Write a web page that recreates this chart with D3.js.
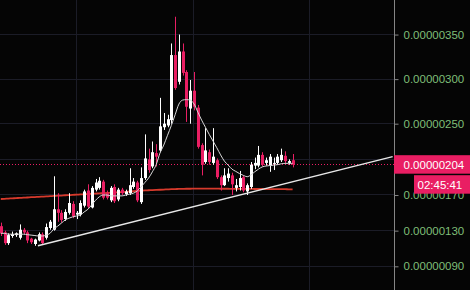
<!DOCTYPE html>
<html>
<head>
<meta charset="utf-8">
<script src="https://cdn.jsdelivr.net/npm/d3@7"></script>
<style>
body { margin: 0; background: #050505; overflow: hidden; }
</style>
</head>
<body>
<div id="chart"></div>
<script>
// prices are in units of 0.00000001
var opens  = [135,128,116,124,125,122,131,128,121,115,119,126,122,133,131,154,150,143,150,160,
              148,148,158,175,156,176,178,185,172,164,179,165,176,171,172,179,184,162,189,210,
              202,217,220,246,248,254,327,297,331,308,267,287,268,226,207,218,206,209,190,181,
              189,192,178,179,190,174,179,203,203,215,206,203,205,206,209,214,206,209];
var highs  = [139,130,127,129,128,137,133,130,122,121,128,128,138,142,191,172,153,154,172,163,
              152,164,176,182,180,188,190,187,175,180,182,178,178,176,200,189,186,201,238,222,
              230,227,279,262,260,340,370,350,340,310,299,308,271,228,245,221,245,211,192,200,
              200,195,188,197,192,183,207,212,225,218,212,216,212,216,222,219,210,216];
var lows   = [124,114,114,122,123,120,126,116,115,113,118,115,120,131,130,140,139,141,148,144,
              143,146,156,155,155,174,176,165,165,162,161,163,170,169,170,177,162,160,187,195,
              200,202,218,243,246,250,288,294,304,252,250,265,222,192,205,204,204,188,175,180,
              185,170,174,175,173,170,177,199,201,202,203,196,198,204,207,205,204,201];
var closes = [127,116,125,126,127,131,128,119,117,120,126,116,134,140,154,150,142,151,161,146,
              150,161,174,157,178,184,186,167,167,178,163,176,172,174,181,185,164,189,211,198,
              218,213,247,250,255,327,290,331,307,269,287,269,224,204,220,207,213,190,181,192,
              194,182,181,189,175,181,204,206,215,204,209,213,206,213,215,208,208,204];

// white short moving average and red long moving average
var maFast = [127,127,126,126,126,126,126,125.5,125,124.5,124,124,125,127,132,135,138.5,142,144,145.5,
              146.5,147.5,151,154,159,164,168,170,170,169,169,169,169,170,171,172,174.5,179,184,189,
              196,204,217,226,237,248,260,272,276.5,277,276.5,272,263,254,246,238,230.5,223,215,208,
              203.5,199,196.5,194,192,190.5,192.5,196,199,201.5,202.5,203,203.5,204,205,205.5,205.5,205.5];
var maSlow = [165.5,165.7,166,166.2,166.5,166.7,167,167.2,167.5,167.7,168,168.2,168.4,168.7,168.9,169.2,169.4,169.7,169.9,170.1,
              170.4,170.6,170.9,171.1,171.4,171.6,171.8,172.1,172.3,172.6,172.8,173,173.3,173.6,173.9,174.2,174.5,174.8,175.1,175.3,
              175.5,175.7,175.9,176.1,176.3,176.5,176.6,176.8,176.9,177,177,177.1,177.1,177.1,177.1,177.1,177.1,177.1,177,177,
              177,176.9,176.9,176.9,176.8,176.8,176.8,176.7,176.7,176.7,176.6,176.6,176.6,176.5,176.5,176.5,176.4,176.4];

var yTicks = [350, 300, 250, 210, 170, 130, 90];
var hiddenTick = 210;                // its label sits under the last price box
var xGrid = [19.9, 50.8, 81.4];      // candle index of the vertical grid lines
var trendIdx = [9.8, 103.4];         // support line drawn by hand
var trendVal = [113, 213];
var lastPrice = 204;
var timerText = "02:45:41";

var width = 470, height = 290, plotW = 394;
var up = "#ffffff", down = "#e91e63";

var svg = d3.select("#chart")
  .append("svg")
  .attr("width", width)
  .attr("height", height)
  .style("display", "block")
  .style("background", "#050505");

var x = d3.scaleLinear().domain([0, opens.length - 1]).range([0.8, 292.6]);
var y = d3.scaleLinear().domain([90, 350]).range([266.3, 34.55]);

var fmt = function(v) { return (v * 1e-8).toFixed(8); };

// grid
var grid = svg.append("g").attr("stroke", "#1b1c27").attr("stroke-width", 1);
grid.selectAll(".hg").data(yTicks).enter().append("line")
  .attr("x1", 0).attr("x2", plotW)
  .attr("y1", function(d) { return Math.floor(y(d)) + 0.5; })
  .attr("y2", function(d) { return Math.floor(y(d)) + 0.5; });
grid.selectAll(".vg").data(xGrid).enter().append("line")
  .attr("y1", 0).attr("y2", height)
  .attr("x1", function(d) { return Math.round(x(d)) + 0.5; })
  .attr("x2", function(d) { return Math.round(x(d)) + 0.5; });

var plot = svg.append("g");
plot.append("clipPath").attr("id", "clip")
  .append("rect").attr("width", plotW).attr("height", height);

// current price dotted line
plot.append("line")
  .attr("x1", 0).attr("x2", plotW)
  .attr("y1", Math.floor(y(lastPrice)) + 0.5)
  .attr("y2", Math.floor(y(lastPrice)) + 0.5)
  .attr("stroke", down)
  .attr("stroke-width", 1)
  .attr("stroke-dasharray", "1 2");

// slow MA (red)
var line = d3.line()
  .x(function(d, i) { return x(i); })
  .y(function(d) { return y(d); })
  .curve(d3.curveMonotoneX);

plot.append("path")
  .datum(maSlow)
  .attr("d", line)
  .attr("fill", "none")
  .attr("stroke", "#d63a2c")
  .attr("stroke-width", 1.8);

// candles
var candles = opens.map(function(o, i) {
  return { i: i, o: o, h: highs[i], l: lows[i], c: closes[i] };
});
var col = function(d) { return d.c >= d.o ? up : down; };

var cg = plot.selectAll(".candle").data(candles).enter().append("g");
cg.append("rect")
  .attr("x", function(d) { return Math.round(x(d.i)); })
  .attr("width", 1)
  .attr("y", function(d) { return y(d.h); })
  .attr("height", function(d) { return y(d.l) - y(d.h); })
  .attr("fill", col);
cg.append("rect")
  .attr("x", function(d) { return Math.round(x(d.i)) - 1; })
  .attr("width", 3)
  .attr("y", function(d) { return y(Math.max(d.o, d.c)); })
  .attr("height", function(d) { return Math.max(1, Math.abs(y(d.o) - y(d.c))); })
  .attr("fill", col);

// fast MA (white)
plot.append("path")
  .datum(maFast)
  .attr("d", line)
  .attr("fill", "none")
  .attr("stroke", "#d8d8d8")
  .attr("stroke-width", 1);

// trend line
plot.append("line")
  .attr("clip-path", "url(#clip)")
  .attr("x1", x(trendIdx[0])).attr("y1", y(trendVal[0]))
  .attr("x2", x(trendIdx[1])).attr("y2", y(trendVal[1]))
  .attr("stroke", "#e8e8e8")
  .attr("stroke-width", 1.4);

// price axis on the right
svg.append("line")
  .attr("x1", plotW + 0.5).attr("x2", plotW + 0.5)
  .attr("y1", 0).attr("y2", height)
  .attr("stroke", "#858585");

var axis = svg.append("g")
  .attr("transform", "translate(" + (plotW + 0.5) + ",0)")
  .call(d3.axisRight(y).tickValues(yTicks).tickSize(4).tickSizeOuter(0).tickPadding(5)
    .tickFormat(function(d) { return d === hiddenTick ? "" : fmt(d); }));
axis.select(".domain").remove();
axis.selectAll(".tick line").attr("stroke", "#858585");
axis.selectAll(".tick text")
  .attr("fill", "#7fbf78")
  .style("font-family", "'Liberation Sans', Arial, sans-serif")
  .style("font-size", "11.5px");

// last price label and timer
var py = y(lastPrice);
svg.append("rect")
  .attr("x", plotW).attr("y", py - 9.5)
  .attr("width", width - plotW).attr("height", 18.5)
  .attr("fill", down);
svg.append("text")
  .attr("x", 403.5).attr("y", py)
  .attr("dy", "0.36em")
  .attr("fill", "#ffffff")
  .style("font-family", "'Liberation Sans', Arial, sans-serif")
  .style("font-size", "11.5px")
  .text(fmt(lastPrice));

svg.append("rect")
  .attr("x", 414).attr("y", py + 10.5)
  .attr("width", width - 414).attr("height", 18.5)
  .attr("fill", down);
svg.append("text")
  .attr("x", 417.5).attr("y", py + 20)
  .attr("dy", "0.36em")
  .attr("fill", "#ffffff")
  .style("font-family", "'Liberation Sans', Arial, sans-serif")
  .style("font-size", "11.5px")
  .text(timerText);
</script>
</body>
</html>
